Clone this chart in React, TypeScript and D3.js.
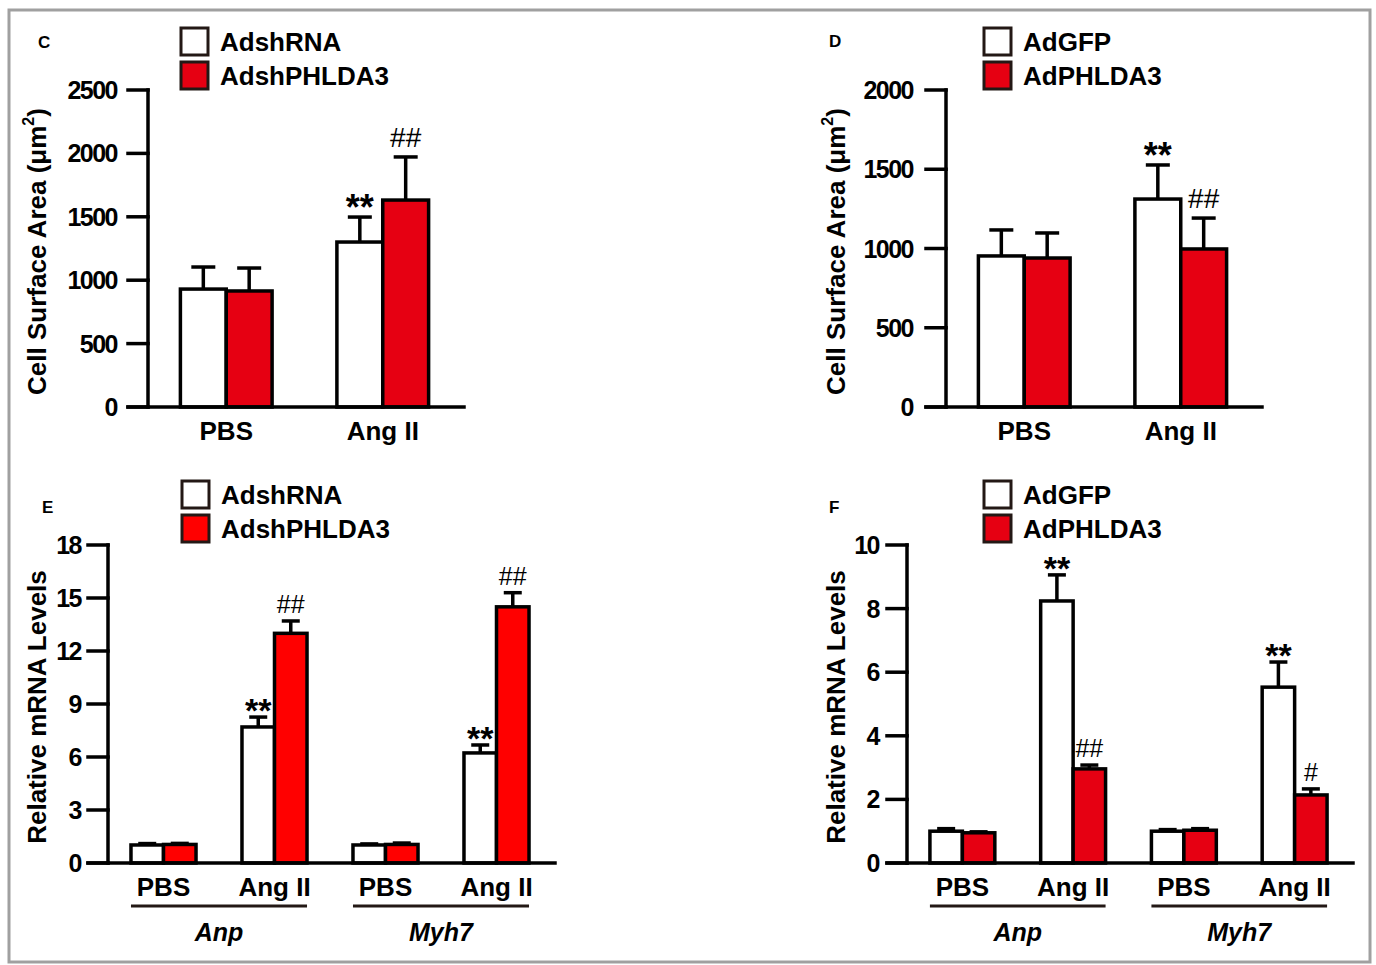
import * as d3 from "d3";

const FONT = "'Liberation Sans', Arial, Helvetica, sans-serif";
const INK = "#000";
const DARK = "#231815";

// ---- panel C: knockdown, cell surface area
const areaGroups = ["PBS", "Ang II"];
const shSeries = ["AdshRNA", "AdshPHLDA3"];
const cCtrlMean = [930, 1301];
const cCtrlErr = [174, 197];
const cShMean = [915, 1632];
const cShErr = [181, 340];
const cCtrlMarks = ["", "**"];
const cShMarks = ["", "##"];
const cTicks = [0, 500, 1000, 1500, 2000, 2500];

// ---- panel D: overexpression, cell surface area
const oeSeries = ["AdGFP", "AdPHLDA3"];
const dCtrlMean = [953, 1312];
const dCtrlErr = [164, 215];
const dOeMean = [940, 997];
const dOeErr = [158, 195];
const dCtrlMarks = ["", "**"];
const dOeMarks = ["", "##"];
const dTicks = [0, 500, 1000, 1500, 2000];

// ---- panels E / F: mRNA levels
const mrnaGroups = ["PBS", "Ang II", "PBS", "Ang II"];
const genes = ["Anp", "Myh7"];
const eCtrlMean = [1.02, 7.7, 1.02, 6.23];
const eCtrlErr = [0.08, 0.56, 0.06, 0.45];
const eShMean = [1.05, 13.0, 1.05, 14.5];
const eShErr = [0.06, 0.7, 0.08, 0.8];
const eCtrlMarks = ["", "**", "", "**"];
const eShMarks = ["", "##", "", "##"];
const eTicks = [0, 3, 6, 9, 12, 15, 18];

const fCtrlMean = [1.0, 8.24, 1.0, 5.53];
const fCtrlErr = [0.08, 0.82, 0.05, 0.79];
const fOeMean = [0.95, 2.96, 1.03, 2.14];
const fOeErr = [0.03, 0.12, 0.05, 0.19];
const fCtrlMarks = ["", "**", "", "**"];
const fOeMarks = ["", "##", "", "#"];
const fTicks = [0, 2, 4, 6, 8, 10];

type PanelProps = {
  letter: string;
  letterX: number;
  letterY: number;
  legendX: number;
  legendY: number;
  series: string[];
  red: string;
  groups: string[];
  genes?: string[];
  means: number[][];
  errs: number[][];
  marks: string[][];
  ticks: number[];
  axisX: number;
  xEnd: number;
  yTop: number;
  yBottom: number;
  tickGap: number;
  capW: number;
  title: "area" | "mrna";
  titleX: number;
  small?: boolean;
};

function Panel(p: PanelProps) {
  const y = d3
    .scaleLinear()
    .domain([0, p.ticks[p.ticks.length - 1]])
    .range([p.yBottom, p.yTop]);
  const keys = p.groups.map((g, i) => `${g}-${i}`);
  const x = d3
    .scaleBand<string>()
    .domain(keys)
    .range([p.axisX, p.xEnd - 3])
    .paddingInner(0.414)
    .paddingOuter(0.207);
  const sub = d3
    .scaleBand<string>()
    .domain(p.series)
    .range([0, x.bandwidth()]);
  const fills = ["#fff", p.red];
  const tickLen = 20;
  const sw = 3.5;
  const labelY = p.yBottom + 24;
  const centerY = (p.yTop + p.yBottom) / 2 + 3;

  return (
    <g fontFamily={FONT}>
      <text x={p.letterX} y={p.letterY} fontSize={17} fontWeight="bold">
        {p.letter}
      </text>

      {p.series.map((s, i) => (
        <g key={s}>
          <rect
            x={p.legendX}
            y={p.legendY + i * 34}
            width={27}
            height={27}
            fill={fills[i]}
            stroke={DARK}
            strokeWidth={3}
          />
          <text
            x={p.legendX + 39}
            y={p.legendY + i * 34 + 14}
            fontSize={26}
            fontWeight="bold"
            dominantBaseline="central"
          >
            {s}
          </text>
        </g>
      ))}

      {/* y title */}
      <text
        transform={`translate(${p.titleX},${centerY}) rotate(-90)`}
        textAnchor="middle"
        dominantBaseline="central"
        fontSize={26}
        fontWeight="bold"
      >
        {p.title === "area" ? (
          <>
            Cell Surface Area (μm
            <tspan fontSize={16} dy={-9}>
              2
            </tspan>
            <tspan dy={9}>)</tspan>
          </>
        ) : (
          "Relative mRNA Levels"
        )}
      </text>

      {/* error bars */}
      {p.series.map((s, si) =>
        keys.map((k, gi) => {
          const cx = (x(k) ?? 0) + (sub(s) ?? 0) + sub.bandwidth() / 2;
          const top = y(p.means[si][gi] + p.errs[si][gi]);
          return (
            <g key={`e-${s}-${k}`} stroke={INK} strokeWidth={sw}>
              <line x1={cx} x2={cx} y1={y(p.means[si][gi])} y2={top} />
              <line x1={cx - p.capW / 2} x2={cx + p.capW / 2} y1={top} y2={top} />
            </g>
          );
        })
      )}

      {/* bars */}
      {p.series.map((s, si) =>
        keys.map((k, gi) => (
          <rect
            key={`b-${s}-${k}`}
            x={(x(k) ?? 0) + (sub(s) ?? 0)}
            y={y(p.means[si][gi])}
            width={sub.bandwidth()}
            height={p.yBottom - y(p.means[si][gi])}
            fill={fills[si]}
            stroke={INK}
            strokeWidth={sw}
          />
        ))
      )}

      {/* significance marks */}
      {p.series.map((s, si) =>
        keys.map((k, gi) => {
          const m = p.marks[si][gi];
          if (!m) return null;
          const cx = (x(k) ?? 0) + (sub(s) ?? 0) + sub.bandwidth() / 2;
          const top = y(p.means[si][gi] + p.errs[si][gi]);
          const star = m[0] === "*";
          const fs = star ? (p.small ? 34 : 36) : p.small ? 25 : 28;
          const yy = star ? top + (p.small ? 5 : 3) : top - (p.small ? 8 : 10);
          return (
            <text
              key={`m-${s}-${k}`}
              x={cx}
              y={yy}
              textAnchor="middle"
              fontSize={fs}
              fontWeight={star ? "bold" : "normal"}
            >
              {m}
            </text>
          );
        })
      )}

      {/* axes */}
      <g stroke={INK} strokeWidth={sw} strokeLinecap="square">
        <line x1={p.axisX} x2={p.axisX} y1={p.yTop} y2={p.yBottom} />
        <line x1={p.axisX - tickLen} x2={p.xEnd} y1={p.yBottom} y2={p.yBottom} />
        {p.ticks.map((t) => (
          <line key={t} x1={p.axisX - tickLen} x2={p.axisX} y1={y(t)} y2={y(t)} />
        ))}
      </g>
      {p.ticks.map((t) => (
        <text
          key={`t-${t}`}
          x={p.axisX - tickLen - p.tickGap}
          y={y(t)}
          textAnchor="end"
          dominantBaseline="central"
          fontSize={25}
          fontWeight="bold"
          letterSpacing={-1.5}
        >
          {t}
        </text>
      ))}

      {keys.map((k, gi) => (
        <text
          key={`x-${k}`}
          x={(x(k) ?? 0) + x.bandwidth() / 2}
          y={labelY}
          textAnchor="middle"
          dominantBaseline="central"
          fontSize={26}
          fontWeight="bold"
        >
          {p.groups[gi]}
        </text>
      ))}

      {p.genes &&
        p.genes.map((g, i) => {
          const a = x(keys[i * 2]) ?? 0;
          const b = (x(keys[i * 2 + 1]) ?? 0) + x.bandwidth();
          return (
            <g key={g}>
              <line
                x1={a}
                x2={b}
                y1={p.yBottom + 43}
                y2={p.yBottom + 43}
                stroke={DARK}
                strokeWidth={3}
              />
              <text
                x={(a + b) / 2}
                y={p.yBottom + 69}
                textAnchor="middle"
                dominantBaseline="central"
                fontSize={25}
                fontWeight="bold"
                fontStyle="italic"
              >
                {g}
              </text>
            </g>
          );
        })}
    </g>
  );
}

export default function App() {
  return (
    <svg
      width={1376}
      height={965}
      style={{ position: "absolute", left: 0, top: 0, background: "#fff" }}
    >
      <rect x={9} y={10} width={1361} height={952} fill="#fff" stroke="#a0a0a0" strokeWidth={3} />
      <Panel
        letter="C"
        letterX={38}
        letterY={48}
        legendX={181}
        legendY={28}
        series={shSeries}
        red="#e60012"
        groups={areaGroups}
        means={[cCtrlMean, cShMean]}
        errs={[cCtrlErr, cShErr]}
        marks={[cCtrlMarks, cShMarks]}
        ticks={cTicks}
        axisX={148}
        xEnd={464}
        yTop={90}
        yBottom={407}
        tickGap={11}
        capW={24}
        title="area"
        titleX={37}
      />
      <Panel
        letter="D"
        letterX={829}
        letterY={47}
        legendX={984}
        legendY={28}
        series={oeSeries}
        red="#e60012"
        groups={areaGroups}
        means={[dCtrlMean, dOeMean]}
        errs={[dCtrlErr, dOeErr]}
        marks={[dCtrlMarks, dOeMarks]}
        ticks={dTicks}
        axisX={946}
        xEnd={1262}
        yTop={90}
        yBottom={407}
        tickGap={13}
        capW={24}
        title="area"
        titleX={836}
      />
      <Panel
        letter="E"
        letterX={42}
        letterY={513}
        legendX={182}
        legendY={481}
        series={shSeries}
        red="#ff0000"
        groups={mrnaGroups}
        genes={genes}
        means={[eCtrlMean, eShMean]}
        errs={[eCtrlErr, eShErr]}
        marks={[eCtrlMarks, eShMarks]}
        ticks={eTicks}
        axisX={108}
        xEnd={555}
        yTop={545}
        yBottom={863}
        tickGap={7}
        capW={18}
        title="mrna"
        titleX={37}
        small
      />
      <Panel
        letter="F"
        letterX={829}
        letterY={513}
        legendX={984}
        legendY={481}
        series={oeSeries}
        red="#e60012"
        groups={mrnaGroups}
        genes={genes}
        means={[fCtrlMean, fOeMean]}
        errs={[fCtrlErr, fOeErr]}
        marks={[fCtrlMarks, fOeMarks]}
        ticks={fTicks}
        axisX={907}
        xEnd={1353}
        yTop={545}
        yBottom={863}
        tickGap={8}
        capW={18}
        title="mrna"
        titleX={836}
        small
      />
    </svg>
  );
}
